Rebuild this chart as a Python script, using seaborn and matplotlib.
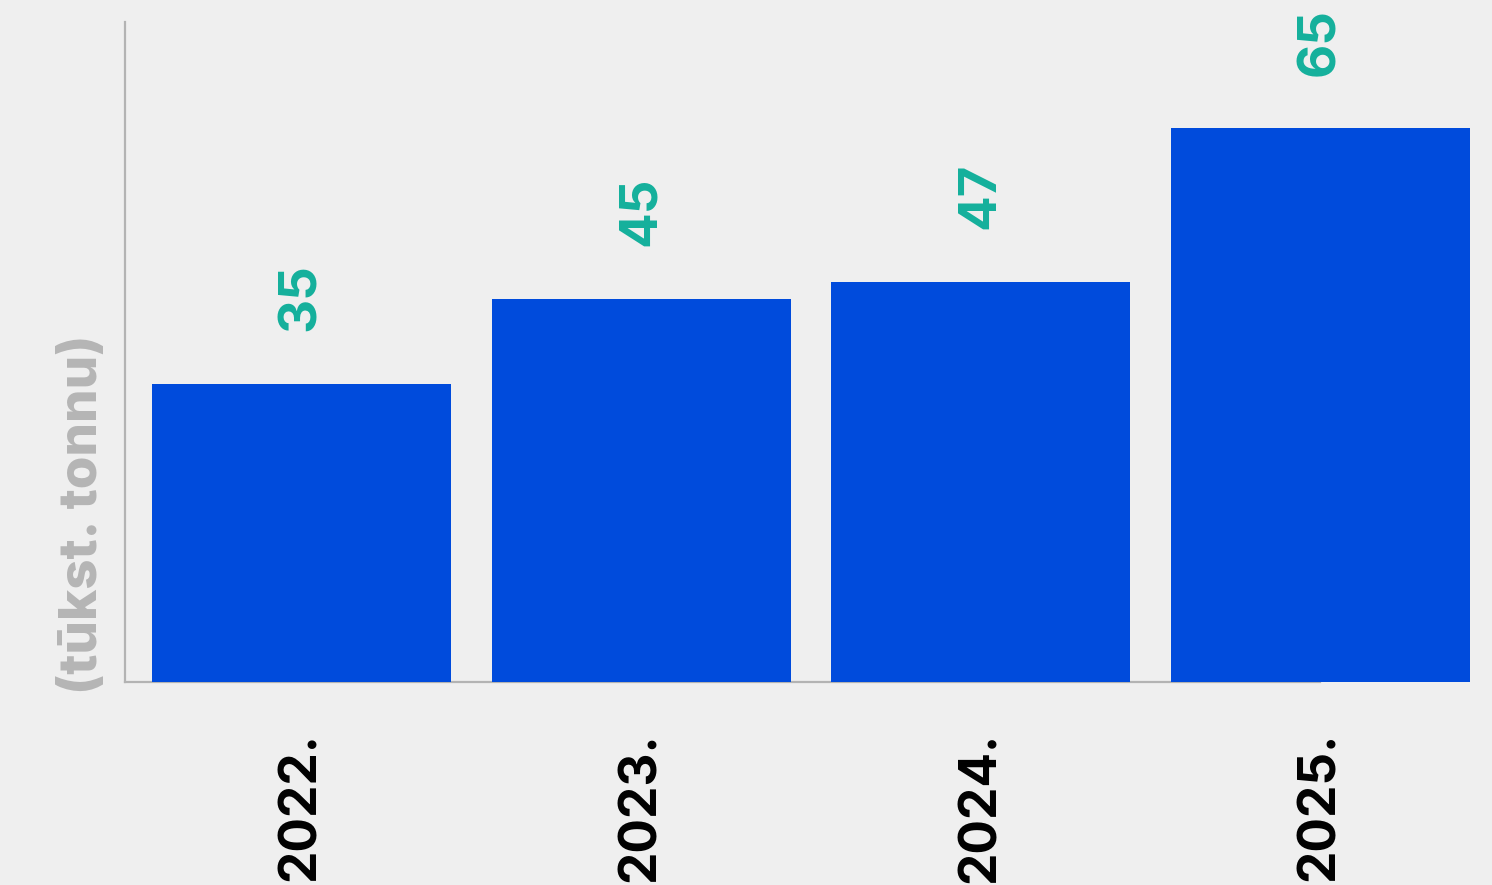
import matplotlib
matplotlib.use("Agg")
import matplotlib.pyplot as plt
import seaborn as sns
import pandas as pd

years = ["2022.", "2023.", "2024.", "2025."]
values = [35, 45, 47, 65]
value_labels = ["35", "45", "47", "65"]

sns.set_theme(style="white")
plt.rcParams["font.family"] = ["Inter", "DejaVu Sans"]

BG = "#efefef"
fig = plt.figure(figsize=(14.92, 8.85), dpi=100, facecolor=BG)
ax = fig.add_axes([125/1492, (885-682)/885, 1 - 125/1492, (682-22)/885])
ax.set_facecolor(BG)

df = pd.DataFrame({"year": years, "value": values})
sns.barplot(data=df, x="year", y="value", color="#004bdc", saturation=1,
            width=0.88, linewidth=0, ax=ax)
for p in ax.patches:
    p.set_clip_on(False)
    p.set_edgecolor("none")

ax.set_xlim(-0.52, 3.505)
ax.set_ylim(0, 77.5)

for i, (v, lab) in enumerate(zip(values, value_labels)):
    ax.annotate(lab, xy=(i, v), xytext=(0, 38), textcoords="offset points",
                rotation=90, ha="center", va="bottom", color="#14b09c",
                fontsize=38, fontweight="bold", annotation_clip=False)

ax.set_yticks([])
ax.set_xticks(range(len(years)))
ax.set_xticklabels(years, rotation=90, fontsize=37, fontweight="bold", color="black")
ax.tick_params(axis="x", length=0, pad=36)
ax.set_xlabel("")
ax.set_ylabel("(tūkst. tonnu)", fontsize=38, fontweight="heavy", color="#b5b5b5")
ax.yaxis.set_label_coords(-0.0125, 0.2545)

for s in ["top", "right"]:
    ax.spines[s].set_visible(False)
for s in ["left", "bottom"]:
    ax.spines[s].set_color("#b3b3b3")
    ax.spines[s].set_linewidth(1.6)
ax.spines["bottom"].set_bounds(-0.52, 3.0)
ax.spines["bottom"].set_zorder(0.5)

fig.savefig("out.png", dpi=100, facecolor=BG)
